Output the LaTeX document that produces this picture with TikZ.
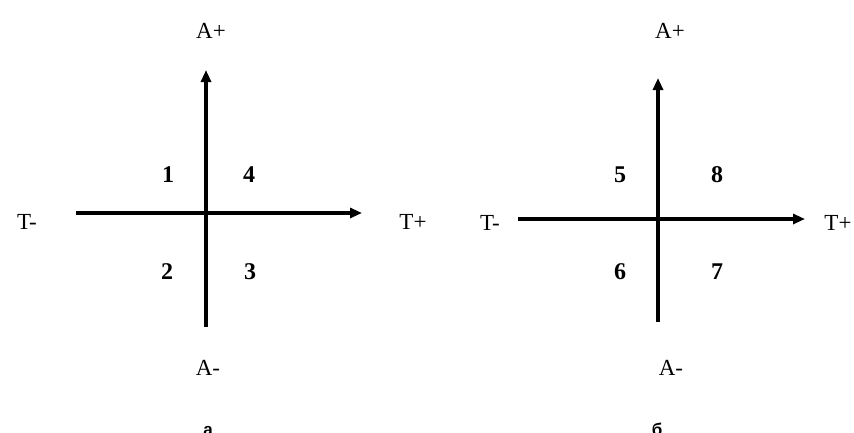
\documentclass[tikz,border=0pt]{standalone}
\usepackage{fontspec}
\setmainfont{Liberation Serif}
\newfontfamily\capfont{Liberation Sans}
\usetikzlibrary{arrows.meta}
\begin{document}
\begin{tikzpicture}[x=1pt,y=-1pt,
  axis/.style={line width=3.2pt,-{Triangle[length=12pt,width=10pt]}},
  lbl/.style={font=\fontsize{23}{26}\selectfont,inner sep=0pt},
  num/.style={font=\fontsize{24}{26}\selectfont\bfseries,inner sep=0pt},
  caption label/.style={font=\capfont\fontsize{17}{20}\selectfont\bfseries,inner sep=0pt,anchor=base}]
\useasboundingbox (0,0) rectangle (854,432);
% left diagram
\coordinate (la0) at (206,327);
\coordinate (la1) at (206,70);
\coordinate (lt0) at (76,213);
\coordinate (lt1) at (362,213);
\draw[axis] (la0) -- (la1);
\draw[axis] (lt0) -- (lt1);
\node[lbl] (lap) at (211,31) {A+};
\node[lbl] (lam) at (208,368) {A-};
\node[lbl] (ltm) at (27,222) {T-};
\node[lbl] (ltp) at (413,222) {T+};
\node[num] (n1) at (168,175) {1};
\node[num] (n4) at (249,175) {4};
\node[num] (n2) at (167,272) {2};
\node[num] (n3) at (250,272) {3};
\node[caption label] (ca) at (208,435) {а};
% right diagram
\coordinate (ra0) at (658,322);
\coordinate (ra1) at (658,78);
\coordinate (rt0) at (518,219);
\coordinate (rt1) at (805,219);
\draw[axis] (ra0) -- (ra1);
\draw[axis] (rt0) -- (rt1);
\node[lbl] (rap) at (670,31) {A+};
\node[lbl] (ram) at (671,368) {A-};
\node[lbl] (rtm) at (490,223) {T-};
\node[lbl] (rtp) at (838,223) {T+};
\node[num] (n5) at (620,175) {5};
\node[num] (n8) at (717,175) {8};
\node[num] (n6) at (620,272) {6};
\node[num] (n7) at (717,272) {7};
\node[caption label] (cb) at (657,435) {б};
\end{tikzpicture}
\end{document}
